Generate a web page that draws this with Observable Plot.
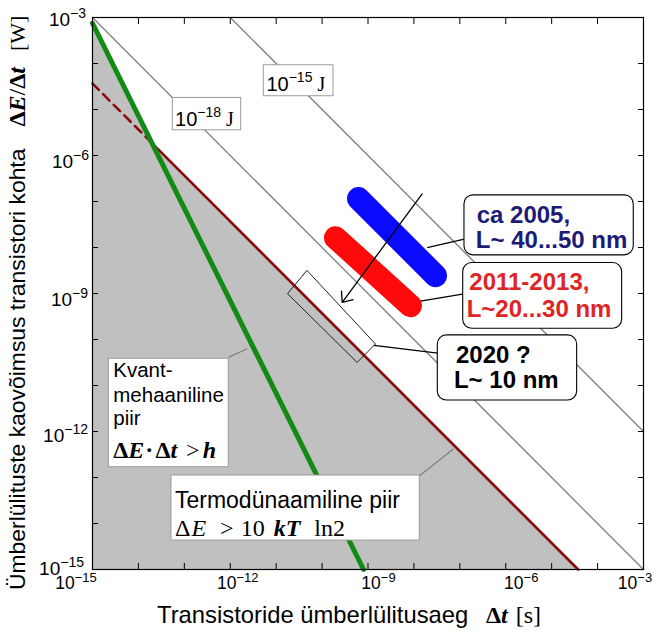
<!DOCTYPE html>
<html><head><meta charset="utf-8">
<script src="https://cdn.jsdelivr.net/npm/d3@7"></script>
<script src="https://cdn.jsdelivr.net/npm/@observablehq/plot@0.6"></script>
<style>html,body{margin:0;padding:0;background:#fff} svg{display:block}</style>
</head><body><div id="chart"></div>
<script>
// ---------------- data ----------------
const decadeTicks = [1e-15,1e-14,1e-13,1e-12,1e-11,1e-10,1e-9,1e-8,1e-7,1e-6,1e-5,1e-4,1e-3];
const labelTicks = [1e-15,1e-12,1e-9,1e-6,1e-3];
const labelExponents = ["\u221215","\u221212","\u22129","\u22126","\u22123"];

// constant-energy lines (Δt [s], P [W]) end points
const energy18 = [{t:1e-15,p:1e-3},{t:1e-3,p:1e-15}];   // 10^-18 J
const energy15 = [{t:1e-12,p:1e-3},{t:1e-3,p:1e-12}];   // 10^-15 J
// quantum limit ΔE·Δt > h (green)
const quantumLimit = [{t:1e-15,p:7.5e-4},{t:8.0e-10,p:1e-15}];
// thermodynamic limit ΔE > 10 kT ln2 (dark red)
const thermoLimit = [{t:1e-15,p:3.66e-5},{t:3.77e-5,p:1e-15}];

// technology bars, log10 values [Δt, P] of the two end points
const bar2005 = [[-9.207,-6.937],[-7.530,-8.612]];
const bar2011 = [[-9.708,-7.786],[-8.075,-9.265]];
// 2020 outline corners (log10)
const outline2020 = [[-10.324,-8.504],[-8.837,-10.098],[-9.236,-10.498],[-10.747,-9.010]];
// arrow (log10)
const arrowLog = [[-7.820,-6.835],[-9.562,-9.193]];

// annotation boxes, log10 ranges
const boxLabels = ["e18","e15","kvant","termo","y2005","y2011","y2020"];
const boxT = [[-13.251,-11.762],[-11.270,-9.752],[-14.645,-12.032],[-13.280,-7.872],[-6.899,-3.212],[-6.927,-3.465],[-7.480,-4.445]];
const boxP = [[-4.749,-5.452],[-4.038,-4.712],[-10.418,-12.776],[-12.957,-14.371],[-6.866,-8.171],[-8.338,-9.765],[-9.911,-11.325]];
const boxRounded = [false,false,false,false,true,true,true];

// leader lines (log10)
const grayLeaders = [[[-12.032,-10.383],[-11.631,-10.201]],[[-7.872,-12.957],[-7.132,-12.376]]];
const blackLeaders = [[[-7.711,-8.003],[-6.855,-7.807]],[[-7.857,-9.165],[-6.877,-9.004]],[[-8.874,-10.128],[-7.480,-10.296]]];

// texts
const textKvant = ["Kvant-","mehaaniline","piir"];
const text2005 = ["ca 2005,","L~ 40...50 nm"];
const text2011 = ["2011-2013,","L~20...30 nm"];
const text2020 = ["2020 ?","L~ 10 nm"];
const xTitle = "Transistoride ümberlülitusaeg";
const yTitle = "Ümberlülituste kaovõimsus transistori kohta";

// ---------------- build ----------------
const P10 = v => Math.pow(10, v);
const toPts = arr => arr.map(([a,b]) => ({t:P10(a), p:P10(b)}));

// intersection of the two limit lines (log space)
function logLine(l){ const x1=Math.log10(l[0].t),y1=Math.log10(l[0].p),x2=Math.log10(l[1].t),y2=Math.log10(l[1].p); const m=(y2-y1)/(x2-x1); return {m, b:y1-m*x1}; }
const g = logLine(quantumLimit), r = logLine(thermoLimit);
const xi = (r.b-g.b)/(g.m-r.m), yi = g.m*xi+g.b;
const cross = {t:P10(xi), p:P10(yi)};
const grayBoundary = [quantumLimit[0], cross, thermoLimit[1]];
const thermoDashed = [thermoLimit[0], cross];
const thermoSolid = [cross, thermoLimit[1]];

const boxes = boxLabels.map((id,i)=>({id, x1:P10(boxT[i][0]), x2:P10(boxT[i][1]), y1:P10(boxP[i][0]), y2:P10(boxP[i][1]), rounded:boxRounded[i]}));
const toLink = arr => arr.map(([[a,b],[c,d]])=>({x1:P10(a),y1:P10(b),x2:P10(c),y2:P10(d)}));

const SANS = "'Liberation Sans', Arial, Helvetica, sans-serif";
const SERIF = "'Liberation Serif', 'Times New Roman', Times, serif";
const noText = () => "";

const chart = Plot.plot({
  width: 659, height: 636,
  marginLeft: 92, marginRight: 16, marginTop: 17, marginBottom: 67,
  x: {type:"log", domain:[1e-15,1e-3], axis:null},
  y: {type:"log", domain:[1e-15,1e-3], axis:null},
  style: {fontFamily: SANS, background:"white", overflow:"visible"},
  marks: [
    Plot.areaY(grayBoundary, {x:"t", y1:1e-15, y2:"p", fill:"#c0c0c0"}),
    Plot.line(energy18, {x:"t", y:"p", stroke:"#7f7f7f", strokeWidth:1.3}),
    Plot.line(energy15, {x:"t", y:"p", stroke:"#7f7f7f", strokeWidth:1.3}),
    Plot.line(thermoDashed, {x:"t", y:"p", stroke:"#8b0a0a", strokeWidth:2.6, strokeDasharray:"9,6"}),
    Plot.line(thermoSolid, {x:"t", y:"p", stroke:"#8b0a0a", strokeWidth:2.6}),
    Plot.line(quantumLimit, {x:"t", y:"p", stroke:"#138a13", strokeWidth:5}),
    Plot.line(toPts(bar2005), {x:"t", y:"p", stroke:"#0a0aff", strokeWidth:23, strokeLinecap:"round"}),
    Plot.line(toPts(bar2011), {x:"t", y:"p", stroke:"#ff0a0a", strokeWidth:23, strokeLinecap:"round"}),
    Plot.line(toPts(outline2020), {x:"t", y:"p", stroke:"#222", strokeWidth:1, curve:"linear-closed", strokeLinejoin:"round"}),
    Plot.link(toLink(grayLeaders), {x1:"x1",y1:"y1",x2:"x2",y2:"y2", stroke:"#808080", strokeWidth:1.2}),
    Plot.link(toLink(blackLeaders), {x1:"x1",y1:"y1",x2:"x2",y2:"y2", stroke:"black", strokeWidth:1.2}),
    Plot.arrow([{x1:P10(arrowLog[0][0]),y1:P10(arrowLog[0][1]),x2:P10(arrowLog[1][0]),y2:P10(arrowLog[1][1])}],
      {x1:"x1",y1:"y1",x2:"x2",y2:"y2", stroke:"black", strokeWidth:1.3, headLength:13, headAngle:80}),
    Plot.rect(boxes.filter(d=>!d.rounded), {x1:"x1",x2:"x2",y1:"y1",y2:"y2", fill:"white", stroke:"#9a9a9a", strokeWidth:1}),
    Plot.rect(boxes.filter(d=>d.rounded), {x1:"x1",x2:"x2",y1:"y1",y2:"y2", fill:"white", stroke:"black", strokeWidth:1.1, rx:9}),
    Plot.axisX(decadeTicks, {anchor:"bottom", tickSize:6, dy:-6, tickFormat:noText, label:null}),
    Plot.axisX(decadeTicks, {anchor:"top", tickSize:6, dy:6, tickFormat:noText, label:null}),
    Plot.axisY(decadeTicks, {anchor:"left", tickSize:6, dx:6, tickFormat:noText, label:null}),
    Plot.axisY(decadeTicks, {anchor:"right", tickSize:6, dx:-6, tickFormat:noText, label:null}),
    Plot.frame({stroke:"black", strokeWidth:1.2})
  ]
});
document.getElementById("chart").appendChild(chart);

// ---------------- rich text (real SVG text with tspans) ----------------
const svg = d3.select(chart);
const sx = chart.scale("x"), sy = chart.scale("y");
const X = v => sx.apply(P10(v)), Y = v => sy.apply(P10(v));

function rich(px, py, parts, {anchor="start", fill="black", size=18, family=SANS, weight="normal", rotate=0}={}) {
  const t = svg.append("text").attr("x", px).attr("y", py).attr("text-anchor", anchor)
    .attr("fill", fill).attr("font-size", size).attr("font-family", family).attr("font-weight", weight);
  if (rotate) t.attr("transform", `rotate(${rotate},${px},${py})`);
  let raised = 0;
  for (const p of parts) {
    const s = t.append("tspan").text(p.t);
    if (p.ff) s.attr("font-family", p.ff);
    if (p.fs) s.attr("font-size", p.fs);
    if (p.fw) s.attr("font-weight", p.fw);
    if (p.it) s.attr("font-style", "italic");
    if (p.dx) s.attr("dx", p.dx);
    const want = p.sup || 0;
    if (want !== raised) s.attr("dy", raised - want);
    raised = want;
  }
  return t;
}

// tick labels
const xNudge = [-16, 8, 11, 16, -8];
const yEnd = [84, 88, 88, 89, 86];
const yBase = [5.5, 10.5, 13, 12.5, 9];
labelTicks.forEach((v,i) => {
  rich(sx.apply(v) + xNudge[i], 589, [{t:"10"},{t:labelExponents[i], fs:13, sup:7}], {anchor:"middle", size:17.5});
  rich(yEnd[i], sy.apply(v) + yBase[i], [{t:"10"},{t:labelExponents[i], fs:14, sup:8}], {anchor:"end", size:19});
});

// axis titles
rich(157, 623, [{t:xTitle}], {size:23.8});
rich(486, 623, [{t:"Δ", fw:"bold"},{t:"t", fw:"bold", it:1},{t:"[s]", dx:8}], {size:24, family:SERIF});
rich(25, 590, [{t:yTitle},
  {t:"Δ", ff:SERIF, fw:"bold", fs:24, dx:22},{t:"E", ff:SERIF, fw:"bold", it:1, fs:24},{t:"/", ff:SERIF, fs:24},
  {t:"Δ", ff:SERIF, fw:"bold", fs:24},{t:"t", ff:SERIF, fw:"bold", it:1, fs:24},{t:"[W]", ff:SERIF, fs:22, dx:16}],
  {size:22.9, rotate:-90});

// energy labels
rich(X(-13.19), Y(-5.367), [{t:"10"},{t:"\u221218", fs:14, sup:9},{t:" J", ff:SERIF, fs:20}], {size:20});
rich(X(-11.201), Y(-4.600), [{t:"10"},{t:"\u221215", fs:14, sup:9},{t:" J", ff:SERIF, fs:20}], {size:20});

// Kvant box
const kvY = [-10.818,-11.362,-11.869];
textKvant.forEach((s,i)=>rich(X(-14.536), Y(kvY[i]), [{t:s}], {size:20.5}));
rich(X(-14.536), Y(-12.587), [{t:"Δ", fw:"bold"},{t:"E", fw:"bold", it:1},{t:"·", fw:"bold", dx:1},{t:"Δ", fw:"bold", dx:2},{t:"t", fw:"bold", it:1},{t:">", dx:9},{t:"h", fw:"bold", it:1, dx:3}], {size:24, family:SERIF});

// Termo box
rich(X(-13.193), Y(-13.681), [{t:"Termodünaamiline piir"}], {size:23});
rich(X(-13.193), Y(-14.284), [{t:"Δ"},{t:"E", it:1, dx:1},{t:">", dx:14},{t:"10", dx:7},{t:"kT", it:1, fw:"bold", dx:9},{t:"ln2", dx:14}], {size:24, family:SERIF});

// technology labels
rich(X(-6.622), Y(-7.481), [{t:text2005[0]}], {size:24, weight:"bold", fill:"#1c1c78"});
rich(X(-6.640), Y(-8.025), [{t:text2005[1]}], {size:24, weight:"bold", fill:"#1c1c78"});
rich(X(-6.783), Y(-8.932), [{t:text2011[0]}], {size:24, weight:"bold", fill:"#e02424"});
rich(X(-6.840), Y(-9.513), [{t:text2011[1]}], {size:24, weight:"bold", fill:"#e02424"});
rich(X(-7.073), Y(-10.513), [{t:text2020[0]}], {size:24, weight:"bold"});
rich(X(-7.117), Y(-11.070), [{t:text2020[1]}], {size:24, weight:"bold"});
</script></body></html>
